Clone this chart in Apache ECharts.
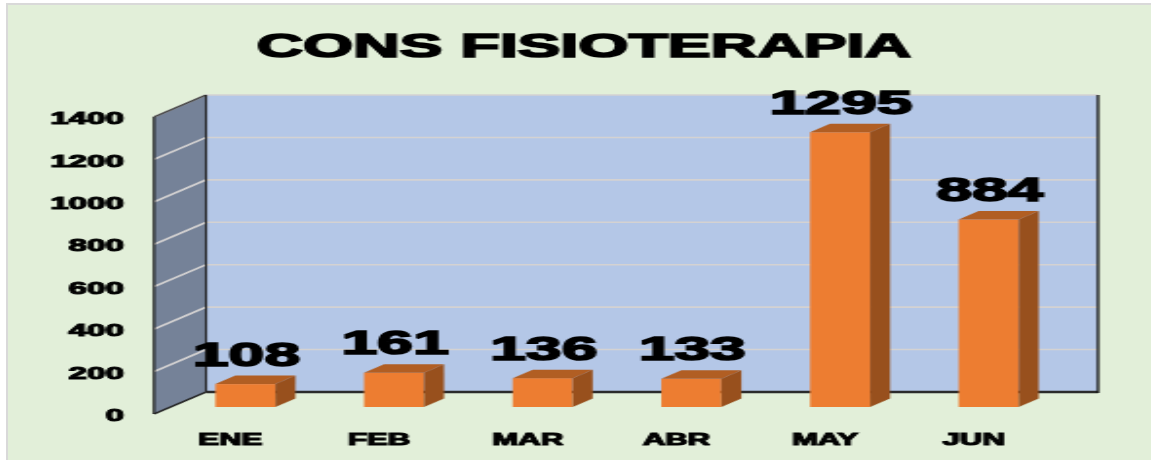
<!DOCTYPE html>
<html>
<head>
<meta charset="utf-8">
<script src="https://cdn.jsdelivr.net/npm/echarts@6/dist/echarts.min.js"></script>
<style>
html,body{margin:0;padding:0;background:#fff;overflow:hidden;width:1151px;height:461px}
#edge{position:absolute;left:6px;top:3px;width:1145px;height:457px;border-left:2px solid #d9d9d9;border-top:2px solid #d9d9d9;box-sizing:border-box}
#main{position:absolute;left:8px;top:5px;height:455px;transform-origin:0 0}
</style>
</head>
<body>
<div id="edge"></div>
<div id="main"></div>
<script>
const titleText = 'CONS FISIOTERAPIA';
const categories = ['ENE', 'FEB', 'MAR', 'ABR', 'MAY', 'JUN'];
const values = [108, 161, 136, 133, 1295, 884];
const yTicks = [200, 400, 600, 800, 1000, 1200, 1400];

const S = 1.95;                 // horizontal stretch of the whole picture
const px = v => v / S;          // screen pixels -> unstretched pixels
const OX = 8, OY = 5;
const FONT = '"Liberation Sans", Arial, sans-serif';
const main = document.getElementById('main');
main.style.width = (1143 / S) + 'px';
main.style.transform = 'scaleX(' + S + ')';
const chart = echarts.init(main, null, {renderer: 'canvas'});

const WALL_DX = px(52), WALL_DY = 22;
const BAR_DX = px(17), BAR_DY = 7;
const BAR_W = px(60), BAR_DEPTH_X = px(20), BAR_DEPTH_Y = 8.5;

function poly(points, fill, extra) {
  return Object.assign({type: 'polygon', shape: {points}, style: {fill}}, extra || {});
}
function line(a, b, stroke, w) {
  return {type: 'polyline', shape: {points: [a, b]}, style: {stroke, lineWidth: w, fill: 'none'}};
}

function renderWalls(params) {
  const c = params.coordSys, x = c.x, y = c.y, h = c.height, r = c.x + c.width;
  return {type: 'group', children: [
    poly([[x + WALL_DX, y - WALL_DY], [r + WALL_DX, y - WALL_DY], [r + WALL_DX, y + h - WALL_DY], [x + WALL_DX, y + h - WALL_DY]], '#B4C7E7'),
    poly([[x, y], [x + WALL_DX, y - WALL_DY], [x + WALL_DX, y + h - WALL_DY], [x, y + h]], '#758298')
  ]};
}
function renderGrid(params, api) {
  const c = params.coordSys;
  const p = api.coord([0, api.value(1)]);
  const y = p[1], x = c.x, r = c.x + c.width;
  return {type: 'polyline', shape: {points: [[x, y], [x + WALL_DX, y - WALL_DY], [r + WALL_DX, y - WALL_DY]]},
    style: {stroke: '#D4D2D2', lineWidth: 1.6, fill: 'none'}};
}
function renderFrame(params) {
  const c = params.coordSys, x = c.x, y = c.y, h = c.height, r = c.x + c.width + WALL_DX, bx = x + WALL_DX;
  const by = y + h - WALL_DY, ty = y - WALL_DY;
  return {type: 'group', children: [
    {type: 'polyline', shape: {points: [[x, y], [bx, ty]]}, style: {stroke: '#444', lineWidth: 1.4, fill: 'none'}},
    line([x, y], [x, y + h], '#1a1a1a', 1.2),
    line([x, y + h], [bx, by], '#222', 1.6),
    line([bx, ty], [bx, by], '#222', 1.1),
    line([bx, by], [r, by], '#2b2b2b', 2.4),
    line([r, ty], [r, by + 1], '#111', 1.3)
  ]};
}
function renderBar(params, api) {
  const p = api.coord([api.value(0), api.value(1)]);
  const b = api.coord([api.value(0), 0]);
  const cx = p[0] + BAR_DX, top = p[1] - BAR_DY, bot = b[1] - BAR_DY;
  const l = cx - BAR_W / 2, r = cx + BAR_W / 2, dx = BAR_DEPTH_X, dy = BAR_DEPTH_Y;
  return {type: 'group', children: [
    poly([[l, top], [r, top], [r, bot], [l, bot]], '#ED7D31'),
    poly([[l, top], [l + dx, top - dy], [r + dx, top - dy], [r, top]], '#B15E23'),
    poly([[r, top], [r + dx, top - dy], [r + dx, bot - dy], [r, bot]], '#98501D'),
    {type: 'text', z2: 10, style: {
      text: String(api.value(1)), x: cx + px(1), y: top - 11, align: 'center', verticalAlign: 'bottom',
      fontFamily: FONT, fontWeight: 'bold', fontSize: 33, fill: '#000', stroke: '#000', lineWidth: 1.6
    }}
  ]};
}

const pairs = categories.map((c, i) => [i, values[i]]);
chart.setOption({
  animation: false,
  backgroundColor: '#E2EFD9',
  title: {
    text: titleText, left: px(574 - OX), top: 21, textAlign: 'center',
    textStyle: {fontFamily: FONT, fontWeight: 'bold', fontSize: 33, color: '#000', textBorderColor: '#000', textBorderWidth: 1.6}
  },
  grid: {left: px(154 - OX), top: 117 - OY, width: px(892), height: 297},
  xAxis: {
    type: 'category', data: categories,
    axisLine: {show: false}, axisTick: {show: false},
    axisLabel: {margin: 19, padding: [0, 0, 0, 2], fontFamily: FONT, fontWeight: 'bold', fontSize: 16, color: '#000', textBorderColor: '#000', textBorderWidth: 1.1}
  },
  yAxis: {
    type: 'value', min: 0, max: 1400, interval: 200,
    axisLine: {show: false}, axisTick: {show: false}, splitLine: {show: false},
    axisLabel: {margin: px(30), formatter: v => String(v), verticalAlign: 'top', lineHeight: 5, fontFamily: FONT, fontWeight: 'bold', fontSize: 17, color: '#000', textBorderColor: '#000', textBorderWidth: 1.1}
  },
  series: [
    {type: 'custom', renderItem: renderWalls, data: [[0, 0]], encode: {x: 0, y: 1}, z: 1, silent: true},
    {type: 'custom', renderItem: renderGrid, data: yTicks.map(t => [0, t]), encode: {x: 0, y: 1}, z: 2, silent: true},
    {type: 'custom', renderItem: renderFrame, data: [[0, 0]], encode: {x: 0, y: 1}, z: 3, silent: true},
    {type: 'custom', renderItem: renderBar, data: pairs, encode: {x: 0, y: 1}, z: 4, silent: true}
  ]
});
</script>
</body>
</html>
